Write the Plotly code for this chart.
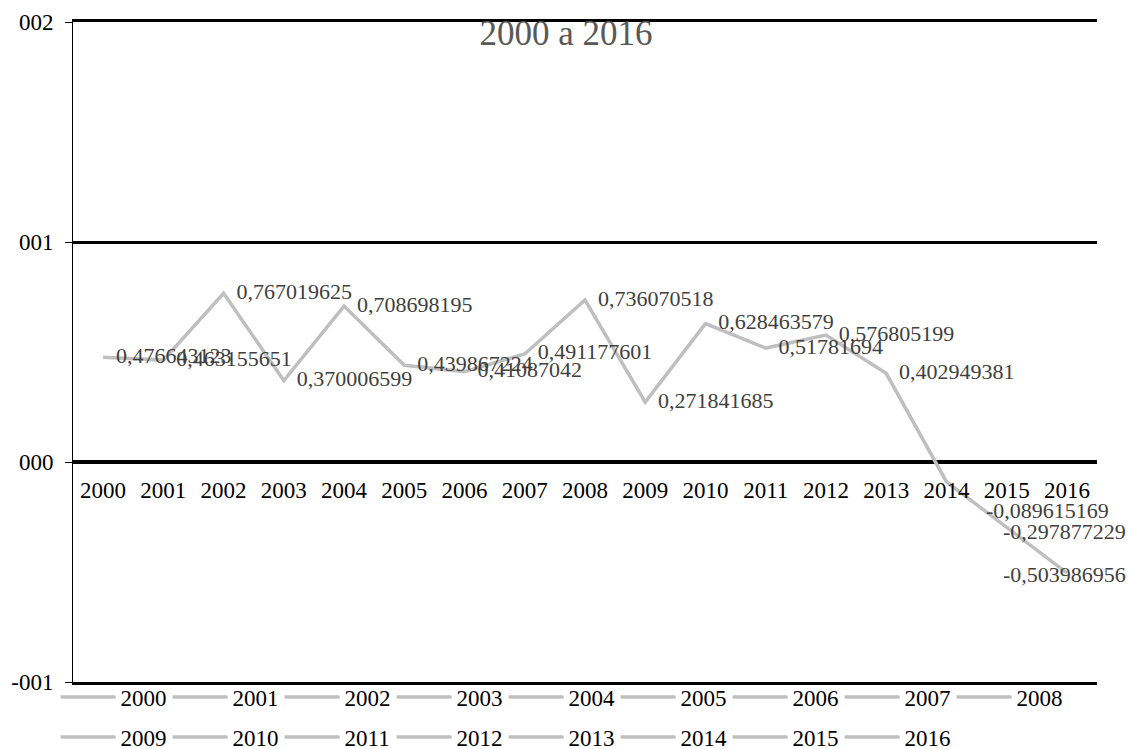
import plotly.graph_objects as go

years = [str(y) for y in range(2000, 2017)]
values = [0.476643123, 0.463155651, 0.767019625, 0.370006599, 0.708698195,
          0.439867224, 0.41087042, 0.491177601, 0.736070518, 0.271841685,
          0.628463579, 0.51781694, 0.576805199, 0.402949381, -0.089615169,
          -0.297877229, -0.503986956]
y_tickvals = [-1, 0, 1, 2]
y_ticktext = ["-001", "000", "001", "002"]
title_text = "2000 a 2016"
legend_row1 = years[:9]
legend_row2 = years[9:]

labels = [str(v).replace(".", ",") for v in values]
n_inline = 14  # labels drawn right of their points; the rest are shifted like Excel does

FONT = "Liberation Serif"
LINE_COLOR = "#BFBFBF"
LABEL_COLOR = "#404040"

fig = go.Figure()
fig.add_trace(go.Scatter(
    x=years, y=values, mode="lines+markers+text",
    line=dict(color=LINE_COLOR, width=3.5),
    marker=dict(size=19, color="rgba(0,0,0,0)"),
    text=labels[:n_inline] + [""] * (len(labels) - n_inline),
    textposition="middle right",
    textfont=dict(family=FONT, size=22, color=LABEL_COLOR),
    showlegend=False, cliponaxis=False, hoverinfo="x+y",
))
for k, yr in enumerate(years):
    fig.add_trace(go.Scatter(
        x=[None], y=[None], mode="lines", name=yr,
        line=dict(color=LINE_COLOR, width=3.5), showlegend=True,
        legend="legend" if yr in legend_row1 else "legend2",
        xaxis="x2" if k == 0 else "x",
    ))

# Excel-shifted labels for the last three points
ann = []
ann.append(dict(x=14, y=values[14], xref="x", yref="y", text=labels[14],
                xanchor="left", yanchor="middle", xshift=38, yshift=-29,
                showarrow=False, font=dict(family=FONT, size=22, color=LABEL_COLOR)))
for i in (15, 16):
    ann.append(dict(x=(1128 - 73) / 1024, y=values[i], xref="paper", yref="y",
                    text=labels[i], xanchor="right", yanchor="middle",
                    yshift=-4 if i == 15 else -2, showarrow=False,
                    font=dict(family=FONT, size=22, color=LABEL_COLOR)))

legend_common = dict(
    orientation="h", xanchor="left", yanchor="middle",
    entrywidth=42, entrywidthmode="pixels", itemwidth=55,
    font=dict(family=FONT, size=23, color="black"),
    bgcolor="rgba(0,0,0,0)", traceorder="normal",
)

fig.update_layout(
    width=1128, height=749,
    margin=dict(l=73, r=31, t=22, b=67, autoexpand=False),
    paper_bgcolor="white", plot_bgcolor="white",
    font=dict(family=FONT, size=23, color="black"),
    title=dict(text=title_text, x=566 / 1128, xanchor="center", xref="container",
               y=1 - 33 / 749, yanchor="middle",
               font=dict(family=FONT, size=35, color="#595959")),
    xaxis=dict(
        type="category", range=[-0.5, 16.5], anchor="free", position=1 / 3,
        showline=False, showgrid=False, zeroline=False, ticks="",
        ticklabelstandoff=12, tickfont=dict(family=FONT, size=23, color="black"),
        fixedrange=True,
    ),
    xaxis2=dict(
        overlaying="x", anchor="y", side="top", range=[-0.5, 16.5],
        showline=True, mirror=True, linecolor="black", linewidth=2.5,
        showgrid=False, zeroline=False, showticklabels=False, ticks="",
        fixedrange=True,
    ),
    yaxis=dict(
        range=[-1, 2], tickvals=y_tickvals, ticktext=y_ticktext,
        showgrid=True, gridcolor="black", gridwidth=2.5,
        zeroline=True, zerolinecolor="black", zerolinewidth=3.5,
        showline=True, linecolor="black", linewidth=1,
        ticks="outside", ticklen=7, tickcolor="black", tickwidth=1,
        ticklabelstandoff=7,
        tickfont=dict(family=FONT, size=23, color="black"),
        fixedrange=True,
    ),
    legend=dict(x=-0.017, y=(682 - 697) / 660, **legend_common),
    legend2=dict(x=-0.017, y=(682 - 737) / 660, **legend_common),
    annotations=ann,
    showlegend=True,
)

fig.write_html("out.html")
